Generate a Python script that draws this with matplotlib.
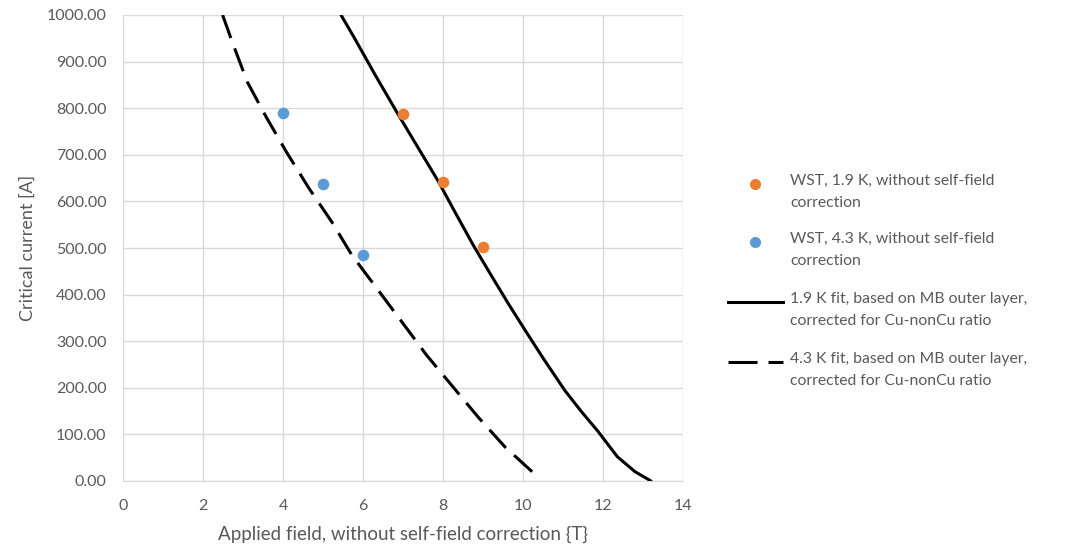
import matplotlib
matplotlib.use("Agg")
import matplotlib.pyplot as plt
from matplotlib.lines import Line2D

plt.rcParams['font.family'] = ['Lato', 'DejaVu Sans']

# Data
wst19_x = [7, 8, 9]
wst19_y = [787, 642, 502]
wst43_x = [4, 5, 6]
wst43_y = [790, 637, 484]

fit19_x = [5.45, 5.77, 6.3, 6.89, 7.4, 7.89, 8.3, 8.77, 9.2, 9.63, 10.05, 10.5,
           11.04, 11.45, 11.87, 12.36, 12.8, 13.2]
fit19_y = [1000, 953, 872, 785, 712, 642, 577, 504, 442, 381, 324, 264,
           195, 150, 107, 52, 20, 0]
fit43_x = [2.49, 2.74, 3.11, 3.58, 4.1, 4.65, 5.22, 5.72, 6.34, 6.94, 7.59,
           8.21, 8.88, 9.55, 10.33]
fit43_y = [1000, 940, 856, 781, 704, 628, 556, 485, 414, 345, 270,
           206, 137, 73, 12]

x_ticks = [0, 2, 4, 6, 8, 10, 12, 14]
y_ticks = [0, 100, 200, 300, 400, 500, 600, 700, 800, 900, 1000]

labels = ["WST, 1.9 K, without self-field\ncorrection",
          "WST, 4.3 K, without self-field\ncorrection",
          "1.9 K fit, based on MB outer layer,\ncorrected for Cu-nonCu ratio",
          "4.3 K fit, based on MB outer layer,\ncorrected for Cu-nonCu ratio"]

orange = '#ED7D31'
blue = '#5B9BD5'
grey_txt = '#595959'
grid_c = '#D9D9D9'

W, H = 1067, 548
fig = plt.figure(figsize=(W / 100, H / 100), dpi=100)
ax = fig.add_axes([123 / W, 1 - 481 / H, (683 - 123) / W, (481 - 15) / H])

ax.plot(fit19_x, fit19_y, color='black', lw=2.2, solid_capstyle='round', zorder=3)
ax.plot(fit43_x, fit43_y, color='black', lw=2.2, dashes=(8, 3.6), zorder=3)
ax.scatter(wst19_x, wst19_y, s=70, color=orange, zorder=4, linewidths=0)
ax.scatter(wst43_x, wst43_y, s=70, color=blue, zorder=4, linewidths=0)

ax.set_xlim(0, 14)
ax.set_ylim(0, 1000)
ax.set_xticks(x_ticks)
ax.set_yticks(y_ticks)
ax.set_yticklabels([f"{v:.2f}" for v in y_ticks])
ax.grid(True, color=grid_c, lw=1)
ax.set_axisbelow(True)
for s in ['top', 'right', 'left']:
    ax.spines[s].set_visible(False)
ax.spines['bottom'].set_color(grid_c)
ax.tick_params(axis='both', length=0, labelsize=11.5, labelcolor=grey_txt)
ax.tick_params(axis='x', pad=13)
ax.tick_params(axis='y', pad=12)
ax.set_xlabel("Applied field, without self-field correction {T}", fontsize=13.5,
              color=grey_txt, labelpad=9)
ax.set_ylabel("Critical current [A]", fontsize=13, color=grey_txt, labelpad=8)

# Legend (manual, Excel-style)
def fx(px):
    return px / W

def fy(py):
    return 1 - py / H

leg_text_x = 790
entries = [(184, 'o', orange), (242, 'o', blue), (302, '-', None), (362, '--', None)]
for (py, kind, col), lab in zip(entries, labels):
    if kind == 'o':
        fig.add_artist(Line2D([fx(755)], [fy(py)], marker='o', markersize=8,
                              color=col, markeredgewidth=0, linestyle='none'))
    elif kind == '-':
        fig.add_artist(Line2D([fx(728), fx(783)], [fy(py), fy(py)], color='black', lw=2.2))
    else:
        fig.add_artist(Line2D([fx(728), fx(783)], [fy(py), fy(py)], color='black', lw=2.2,
                              dashes=(9.5, 3.6)))
    fig.text(fx(leg_text_x), fy(py - 10), lab, fontsize=11.3, color=grey_txt,
             va='top', ha='left', linespacing=1.7)

fig.savefig("out.png", dpi=100, facecolor='white')
